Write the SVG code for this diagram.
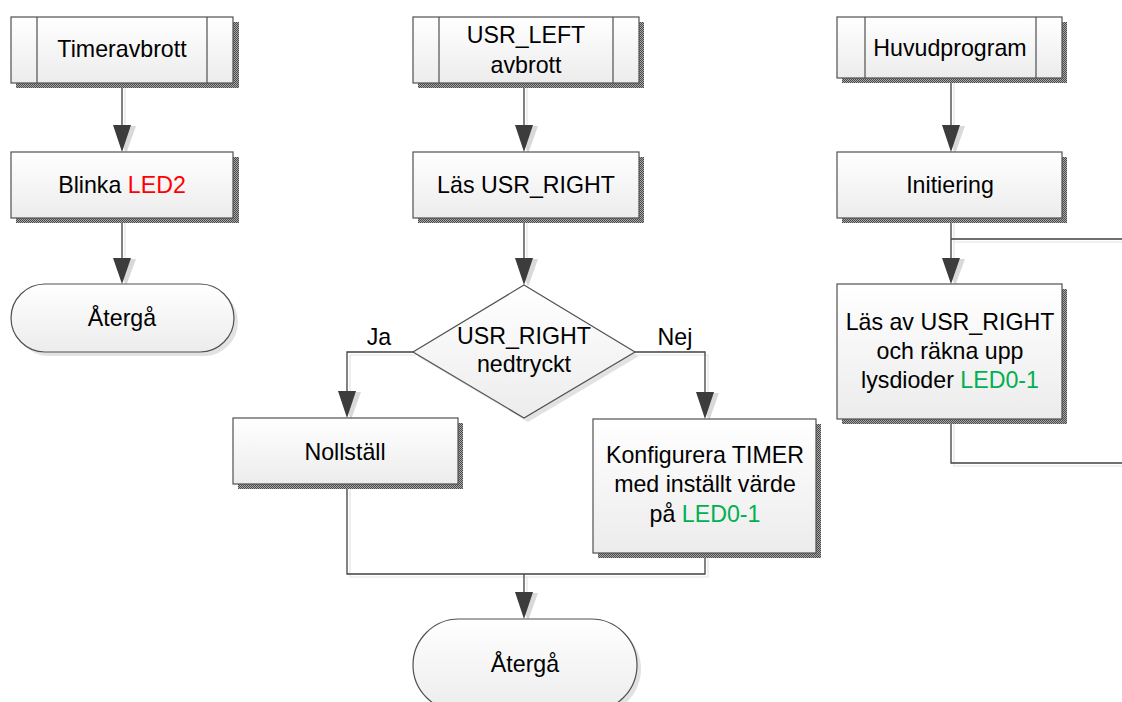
<svg xmlns="http://www.w3.org/2000/svg" width="1122" height="702" viewBox="0 0 1122 702">
<defs>
<linearGradient id="fillG" x1="0" y1="0" x2="0" y2="1">
<stop offset="0" stop-color="#ffffff"/>
<stop offset="1" stop-color="#ececec"/>
</linearGradient>
<pattern id="hatch" width="2" height="2" patternUnits="userSpaceOnUse">
<rect width="2" height="2" fill="#a8a8a8"/>
<rect width="1" height="1" fill="#4a4a4a"/>
<rect x="1" y="1" width="1" height="1" fill="#4a4a4a"/>
</pattern>
</defs>
<style>
.box{fill:url(#fillG);stroke:#505050;stroke-width:1.2}
.shadow{fill:url(#hatch)}
.soft{fill:#e2e2e2}
.inner{stroke:#505050;stroke-width:1.2;fill:none}
.t{font-family:"Liberation Sans",Arial,sans-serif;font-size:23.2px;fill:#000;text-anchor:middle}
.red{fill:#ff0000}
.grn{fill:#00b050}
.c{fill:none;stroke:#404040;stroke-width:1.3}
.cs{fill:none;stroke:#e4e4e4;stroke-width:1.2}
.ah{fill:#3c3c3c}
.ahs{fill:#d9d9d9}
</style>

<g id="connectors">
<path class="cs" d="M125,84 V150 M125,219 V282 M527,84 V150 M527,219 V283 M954,79 V150 M954,219 V282 M954,242 H1122 M954,420 V466 H1122 M350,355 V416 M416,355 H350 M638,355 H708 V417 M350,485 V577 H708 V555 M527,577 V617"/>
<path class="c" d="M122,83 V128 M122,218 V258"/>
<path class="c" d="M524,83 V125 M524,218 V258"/>
<path class="c" d="M951,78 V125 M951,218 V258 M1122,239 H951"/>
<path class="c" d="M951,419 V463 H1122"/>
<path class="c" d="M413,352 H347 V391"/>
<path class="c" d="M635,352 H705 V392"/>
<path class="c" d="M347,484 V574 H705 V553"/>
<path class="c" d="M524,574 V592"/>
<polygon class="ahs" points="116,126 136,126 126,154"/>
<polygon class="ah" points="113,125 131,125 122,152"/>
<polygon class="ahs" points="116,259 136,259 126,286"/>
<polygon class="ah" points="113,258 131,258 122,284"/>
<polygon class="ahs" points="518,126 538,126 528,154"/>
<polygon class="ah" points="515,125 533,125 524,152"/>
<polygon class="ahs" points="518,259 538,259 528,287"/>
<polygon class="ah" points="515,258 533,258 524,285"/>
<polygon class="ahs" points="945,126 965,126 955,154"/>
<polygon class="ah" points="942,125 960,125 951,152"/>
<polygon class="ahs" points="945,259 965,259 955,286"/>
<polygon class="ah" points="942,258 960,258 951,284"/>
<polygon class="ahs" points="341,392 361,392 351,420"/>
<polygon class="ah" points="338,391 356,391 347,418"/>
<polygon class="ahs" points="699,393 719,393 709,421"/>
<polygon class="ah" points="696,392 714,392 705,419"/>
<polygon class="ahs" points="518,593 538,593 528,621"/>
<polygon class="ah" points="515,592 533,592 524,619"/>
</g>

<g id="timeravbrott">
<rect class="shadow" x="16" y="22" width="223" height="66"/>
<rect class="box" x="11" y="17" width="222" height="66"/>
<path class="inner" d="M37,17 V83 M207,17 V83"/>
<text class="t" x="122" y="57">Timeravbrott</text>
</g>

<g id="blinka">
<rect class="shadow" x="16" y="157" width="223" height="66"/>
<rect class="box" x="11" y="152" width="222" height="66"/>
<text class="t" x="122" y="193">Blinka <tspan class="red">LED2</tspan></text>
</g>

<g id="atergaLeft">
<rect class="soft" x="15" y="288" width="223" height="68" rx="34"/>
<rect class="box" x="11" y="284" width="223" height="68" rx="34"/>
<text class="t" x="122" y="326">Återgå</text>
</g>

<g id="usrLeft">
<rect class="shadow" x="418" y="22" width="226" height="66"/>
<rect class="box" x="413" y="17" width="226" height="66"/>
<path class="inner" d="M439,17 V83 M613,17 V83"/>
<text class="t" x="526" y="43">USR_LEFT</text>
<text class="t" x="526" y="73">avbrott</text>
</g>

<g id="lasUsrRight">
<rect class="shadow" x="418" y="157" width="226" height="66"/>
<rect class="box" x="413" y="152" width="226" height="66"/>
<text class="t" x="526" y="193">Läs USR_RIGHT</text>
</g>

<g id="decision">
<polygon class="soft" points="528,289 639,356 528,422 417,356"/>
<polygon class="box" points="524,285 635,352 524,418 413,352"/>
<text class="t" x="524" y="344">USR_RIGHT</text>
<text class="t" x="524" y="372">nedtryckt</text>
</g>

<g id="labels">
<text class="t" x="379" y="345">Ja</text>
<text class="t" x="675" y="345">Nej</text>
</g>

<g id="nollstall">
<rect class="shadow" x="238" y="423" width="225" height="66"/>
<rect class="box" x="233" y="418" width="225" height="66"/>
<text class="t" x="345" y="460">Nollställ</text>
</g>

<g id="konfigurera">
<rect class="shadow" x="598" y="424" width="223" height="134"/>
<rect class="box" x="593" y="419" width="223" height="134"/>
<text class="t" x="705" y="463">Konfigurera TIMER</text>
<text class="t" x="705" y="492">med inställt värde</text>
<text class="t" x="705" y="522">på <tspan class="grn">LED0-1</tspan></text>
</g>

<g id="atergaMid">
<rect class="soft" x="417" y="623" width="224" height="92" rx="46"/>
<rect class="box" x="413" y="619" width="224" height="92" rx="46"/>
<text class="t" x="525" y="672">Återgå</text>
</g>

<g id="huvudprogram">
<rect class="shadow" x="842" y="22" width="225" height="61"/>
<rect class="box" x="837" y="17" width="225" height="61"/>
<path class="inner" d="M865,17 V78 M1036,17 V78"/>
<text class="t" x="950" y="56">Huvudprogram</text>
</g>

<g id="initiering">
<rect class="shadow" x="842" y="157" width="225" height="66"/>
<rect class="box" x="837" y="152" width="225" height="66"/>
<text class="t" x="950" y="193">Initiering</text>
</g>

<g id="lasAv">
<rect class="shadow" x="842" y="289" width="225" height="135"/>
<rect class="box" x="837" y="284" width="225" height="135"/>
<text class="t" x="950" y="330">Läs av USR_RIGHT</text>
<text class="t" x="950" y="359">och räkna upp</text>
<text class="t" x="950" y="388">lysdioder <tspan class="grn">LED0-1</tspan></text>
</g>
</svg>
